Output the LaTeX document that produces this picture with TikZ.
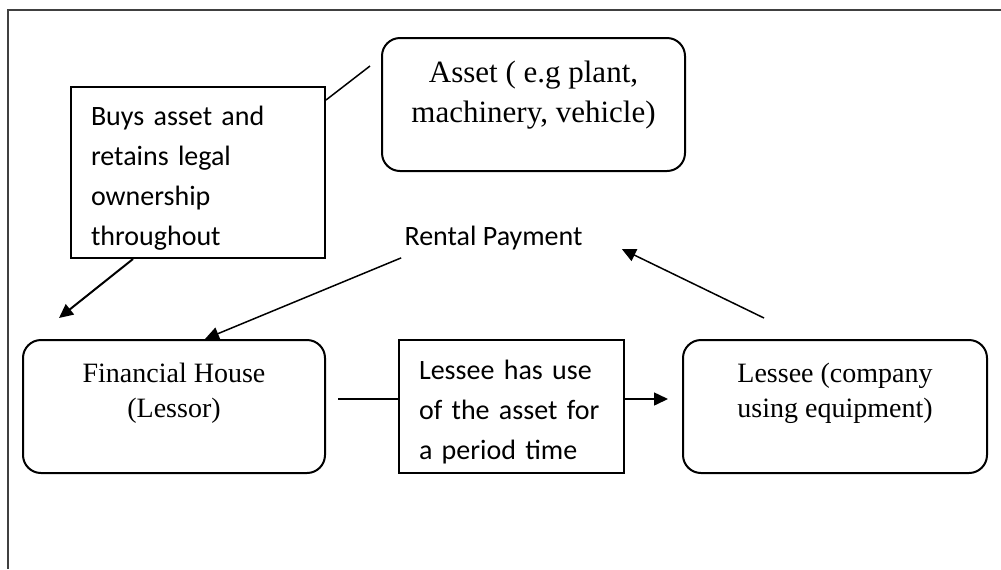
\documentclass[tikz,border=0pt]{standalone}
\usepackage{fontspec}
\setmainfont{Liberation Serif}
\newfontfamily\calibfont{Carlito}
\usetikzlibrary{arrows.meta}
\newcommand{\topgap}{\rule{0pt}{15pt}}

\begin{document}
\begin{tikzpicture}[x=0.5pt,y=-0.5pt,
  >={Triangle[length=7pt,width=6.5pt]},
  roundbox/.style={draw,line width=1pt,rounded corners=9pt,minimum height=66.5pt},
  plainbox/.style={draw,line width=1pt,align=left,inner xsep=10pt,inner ysep=0pt,font=\calibfont\fontsize{14}{20}\selectfont},
  boxtext/.style={anchor=north,inner sep=0pt,align=center,font=\fontsize{14}{17.5}\selectfont},
  link/.style={line width=0.75pt}]
  \useasboundingbox (0,0) rectangle (1001,569);
  \draw[line width=1pt,black!75] (1001,10) -| (8,569);
  % top row
  \node[roundbox,minimum width=151.5pt,
    label={[boxtext,yshift=-11.75pt,font=\fontsize{15.5}{20}\selectfont]north:{Asset ( e.g plant,\\machinery, vehicle)}}]
    (asset) at (533.5,104.5) {};
  \node[plainbox,text width=107pt,minimum height=85.5pt] (buys) at (198,172.5)
    {\topgap Buys asset and\\retains legal\\ownership\\throughout};
  \node[inner sep=0pt,font=\calibfont\fontsize{14}{20}\selectfont] (rental) at (493.5,238.5) {Rental Payment};
  % bottom row
  \node[roundbox,minimum width=151pt,
    label={[boxtext,yshift=-12pt]north:{Financial House\\(Lessor)}}] (fin) at (174,406.5) {};
  \node[plainbox,text width=92.5pt,minimum height=66.5pt] (use) at (511.5,406.5)
    {\topgap Lessee has use\\of the asset for\\a period time};
  \node[roundbox,minimum width=152pt,
    label={[boxtext,yshift=-12pt]north:{Lessee (company\\using equipment)}}] (lessee) at (835,406.5) {};
  % connectors
  \coordinate (owner) at (59,318);
  \draw[link] ([xshift=-5.5pt,yshift=19.25pt]asset.west) -- ([yshift=-7pt]buys.north east);
  \draw[->,line width=1pt] ([xshift=-32.5pt]buys.south) -- (owner);
  \draw[->,link] ([xshift=-1.5pt,yshift=-3.5pt]rental.south west) -- ([xshift=15.5pt]fin.north);
  \draw[->,link] ([xshift=-35.5pt,yshift=10.5pt]lessee.north) -- ([xshift=19.5pt,yshift=-5.25pt]rental.east);
  \draw[link] ([xshift=6pt,yshift=3.75pt]fin.east) -- ([yshift=3.75pt]use.west);
  \draw[->,link] ([yshift=3.75pt]use.east) -- ([xshift=-7pt,yshift=3.75pt]lessee.west);
\end{tikzpicture}
\end{document}
